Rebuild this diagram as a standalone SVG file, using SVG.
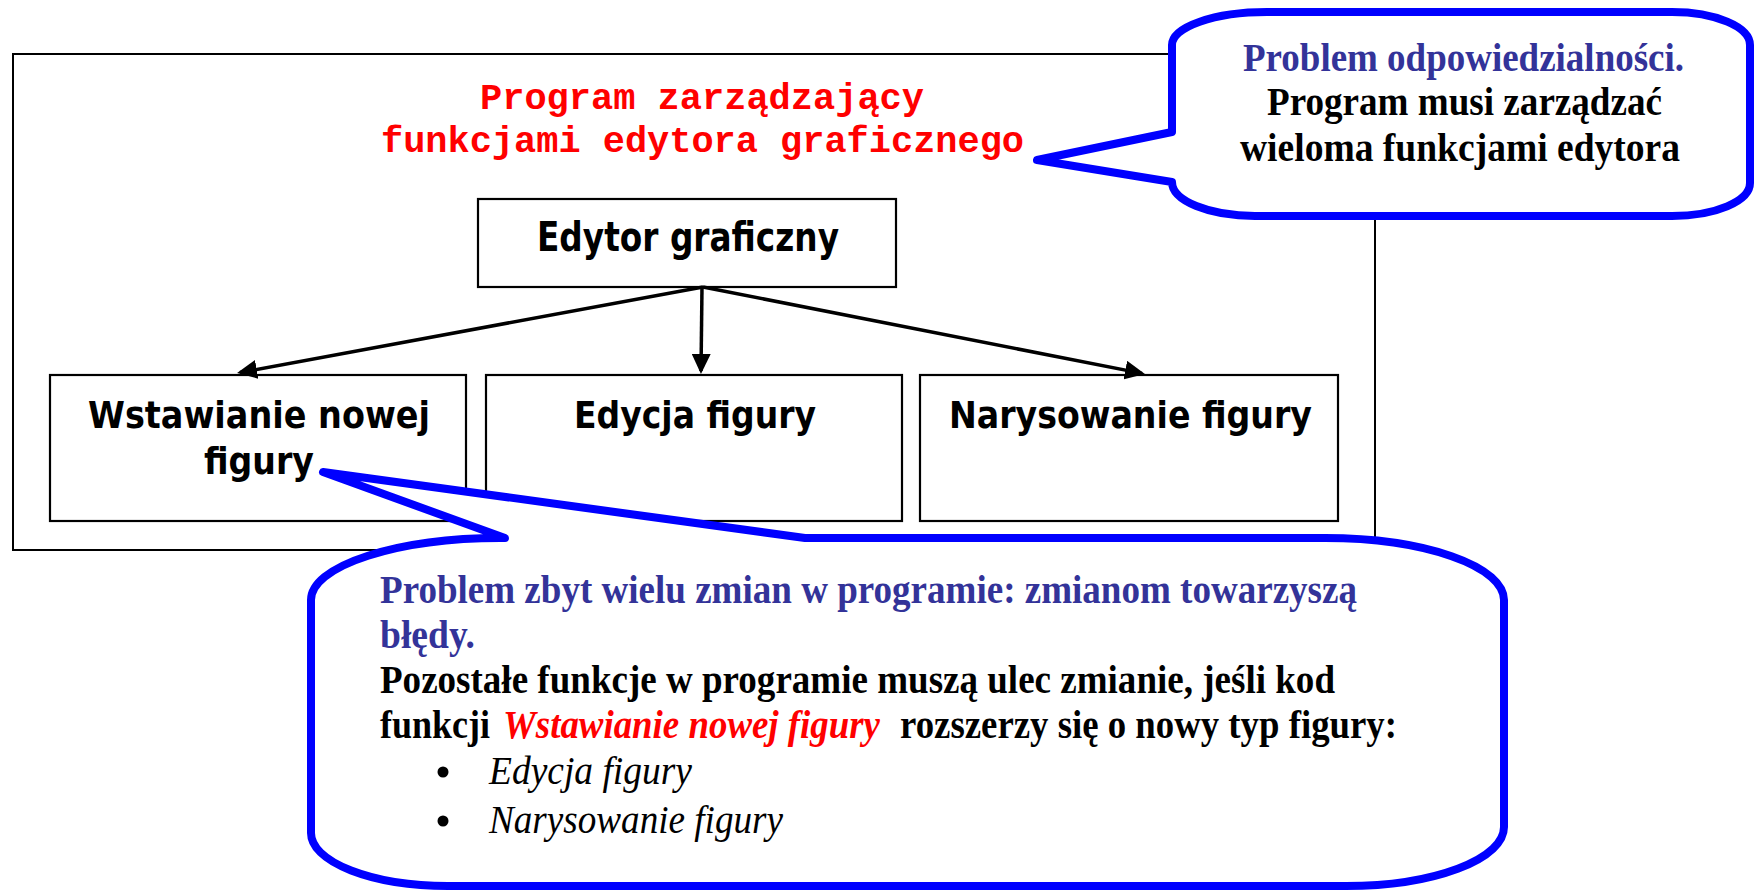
<svg xmlns="http://www.w3.org/2000/svg" width="1754" height="890" viewBox="0 0 1754 890">
<style>
.box{fill:#fff;stroke:#000;stroke-width:2.2}
.frame{fill:#fff;stroke:#000;stroke-width:2}
.call{fill:#fff;stroke:#0000ff;stroke-width:8;stroke-linejoin:round}
.mono{font-family:"Liberation Mono","Courier New",monospace;font-weight:bold;font-size:37px;fill:#ff0000}
.sans{font-family:"DejaVu Sans","Verdana",sans-serif;font-weight:bold;font-size:38px;fill:#000}
.serif{font-family:"Liberation Serif","Times New Roman",serif;font-weight:bold;font-size:39px;fill:#000}
.blue{fill:#333399}
.red{fill:#ff0000;font-style:italic}
.it{font-family:"Liberation Serif","Times New Roman",serif;font-style:italic;font-size:39px;fill:#000}
.bul{fill:#000}
.conn{stroke:#000;stroke-width:3.5;fill:none}
</style>
<defs>
<marker id="arr" markerUnits="userSpaceOnUse" markerWidth="20" markerHeight="19" refX="17" refY="9.5" orient="auto">
<path d="M0,0 L20,9.5 L0,19 Z" fill="#000"/>
</marker>
</defs>
<rect width="1754" height="890" fill="#fff"/>
<g id="frame">
<rect class="frame" x="13" y="54" width="1362" height="496"/>
<text class="mono" x="480" y="109" textLength="444" lengthAdjust="spacingAndGlyphs">Program zarządzający</text>
<text class="mono" x="381" y="152" textLength="643" lengthAdjust="spacingAndGlyphs">funkcjami edytora graficznego</text>
</g>
<g id="edytor">
<rect class="box" x="478" y="199" width="418" height="88"/>
<text class="sans" style="font-size:40px" x="537" y="251" textLength="302" lengthAdjust="spacingAndGlyphs">Edytor graficzny</text>
</g>
<g id="wstawianie">
<rect class="box" x="50" y="375" width="416" height="146"/>
<text class="sans" x="88" y="428" textLength="342" lengthAdjust="spacingAndGlyphs">Wstawianie nowej</text>
<text class="sans" x="204" y="474" textLength="110" lengthAdjust="spacingAndGlyphs">figury</text>
</g>
<g id="edycja">
<rect class="box" x="486" y="375" width="416" height="146"/>
<text class="sans" x="574" y="428" textLength="242" lengthAdjust="spacingAndGlyphs">Edycja figury</text>
</g>
<g id="narysowanie">
<rect class="box" x="920" y="375" width="418" height="146"/>
<text class="sans" x="949" y="428" textLength="363" lengthAdjust="spacingAndGlyphs">Narysowanie figury</text>
</g>
<g id="connectors">
<line class="conn" x1="703" y1="287" x2="240" y2="372.5" marker-end="url(#arr)"/>
<line class="conn" x1="702" y1="287" x2="701" y2="371" marker-end="url(#arr)"/>
<line class="conn" x1="703" y1="287" x2="1142" y2="373.4" marker-end="url(#arr)"/>
</g>
<g id="callout-top">
<path class="call" d="M1172,132 L1172,45 A95,33 0 0 1 1267,12 L1672,12 A78,33 0 0 1 1750,45 L1750,183 A78,33 0 0 1 1672,216 L1255,216 A83,34 0 0 1 1172,182 L1037,160 Z"/>
<text class="serif blue" x="1243" y="71" textLength="441" lengthAdjust="spacingAndGlyphs">Problem odpowiedzialności.</text>
<text class="serif" x="1267" y="115" textLength="395" lengthAdjust="spacingAndGlyphs">Program musi zarządzać</text>
<text class="serif" x="1240" y="161" textLength="440" lengthAdjust="spacingAndGlyphs">wieloma funkcjami edytora</text>
</g>
<g id="callout-bottom">
<path class="call" d="M805,538 L1325,538 A179,62 0 0 1 1504,600 L1504,827 A158,59 0 0 1 1346,886 L448,886 A137,53 0 0 1 311,833 L311,600 A190,62 0 0 1 505,538 L323,472 Z"/>
<text class="serif blue" x="380" y="603" textLength="977" lengthAdjust="spacingAndGlyphs">Problem zbyt wielu zmian w programie: zmianom towarzyszą</text>
<text class="serif blue" x="380" y="648" textLength="95" lengthAdjust="spacingAndGlyphs">błędy.</text>
<text class="serif" x="380" y="693" textLength="955" lengthAdjust="spacingAndGlyphs">Pozostałe funkcje w programie muszą ulec zmianie, jeśli kod</text>
<text class="serif" x="380" y="738" textLength="110" lengthAdjust="spacingAndGlyphs">funkcji</text>
<text class="serif red" x="503" y="738" textLength="377" lengthAdjust="spacingAndGlyphs">Wstawianie nowej figury</text>
<text class="serif" x="900" y="738" textLength="497" lengthAdjust="spacingAndGlyphs">rozszerzy się o nowy typ figury:</text>
<circle class="bul" cx="443" cy="772" r="5.5"/>
<text class="it" x="489" y="784" textLength="203" lengthAdjust="spacingAndGlyphs">Edycja figury</text>
<circle class="bul" cx="443" cy="821" r="5.5"/>
<text class="it" x="489" y="833" textLength="294" lengthAdjust="spacingAndGlyphs">Narysowanie figury</text>
</g>
</svg>
